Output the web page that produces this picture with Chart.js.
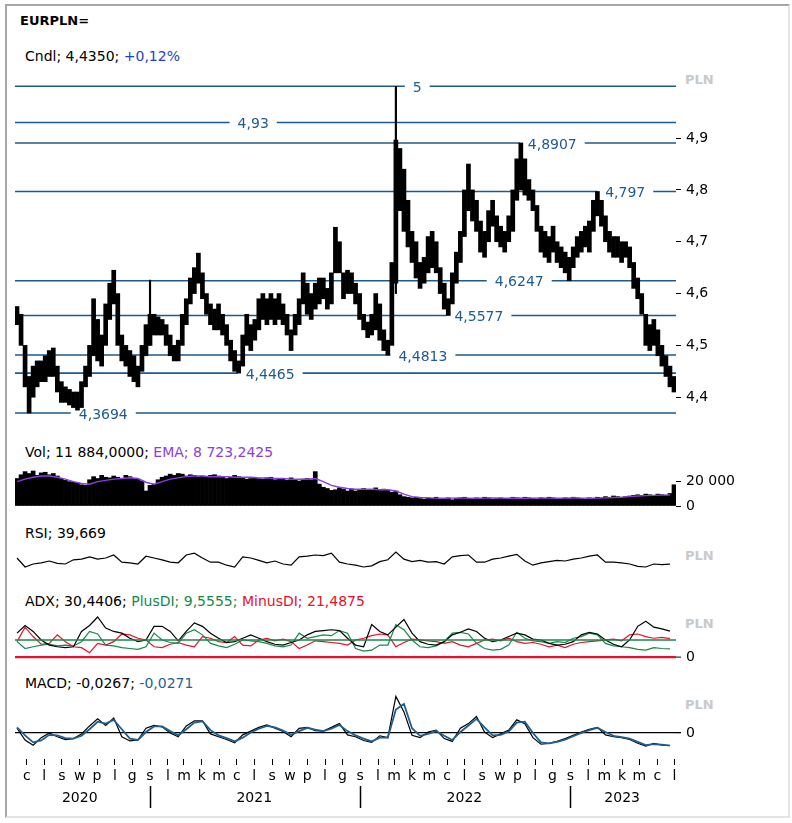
<!DOCTYPE html>
<html><head><meta charset="utf-8">
<script src="https://cdn.jsdelivr.net/npm/chart.js@4.4.0/dist/chart.umd.min.js"></script>
<style>
html,body{margin:0;padding:0;background:#fff;}
body{width:792px;height:823px;position:relative;overflow:hidden;font-family:'DejaVu Sans',sans-serif;}
#frame{position:absolute;left:5px;top:4px;width:785px;height:814px;border-left:2px solid #a6a6a6;border-top:2px solid #a6a6a6;border-right:2px solid #e4e4e4;border-bottom:2px solid #e4e4e4;box-sizing:border-box;}
.t{position:absolute;white-space:nowrap;font-size:14px;line-height:18px;color:#000;}
.pln{position:absolute;font-size:13px;font-weight:bold;color:#c9c9c9;line-height:16px;}
canvas{position:absolute;left:0;}
</style></head><body>
<div id="frame"></div>
<div class="t" style="left:20px;top:12px;font-weight:bold;font-size:13px;">EURPLN=</div>
<div class="t" style="left:25px;top:47px;">Cndl; 4,4350; <span style="color:#1f3fcc">+0,12%</span></div>
<div class="t" style="left:25px;top:443px;">Vol; 11 884,0000; <span style="color:#8a3ee0">EMA; 8 723,2425</span></div>
<div class="t" style="left:25px;top:524px;">RSI; 39,669</div>
<div class="t" style="left:25px;top:592px;">ADX; 30,4406; <span style="color:#16884a">PlusDI; 9,5555;</span> <span style="color:#e8102a">MinusDI; 21,4875</span></div>
<div class="t" style="left:25px;top:674px;">MACD; -0,0267; <span style="color:#1f5f96">-0,0271</span></div>
<div class="pln" style="left:685px;top:72px;">PLN</div>
<div class="pln" style="left:685px;top:548px;">PLN</div>
<div class="pln" style="left:685px;top:616px;">PLN</div>
<div class="pln" style="left:685px;top:697px;">PLN</div>

<canvas id="cPrice" width="792" height="370" style="top:60px"></canvas>
<canvas id="cVol" width="792" height="60" style="top:456px"></canvas>
<canvas id="cRsi" width="792" height="76" style="top:520px"></canvas>
<canvas id="cAdx" width="792" height="67" style="top:600px"></canvas>
<canvas id="cMacd" width="792" height="138" style="top:680px"></canvas>

<script>
// ---------- DATA (weekly candles, weeks since 2020-05-15) ----------
const weekLows = [4.54,4.50,4.42,4.3694,4.40,4.42,4.43,4.43,4.44,4.44,
4.41,4.39,4.39,4.385,4.38,4.375,4.38,4.42,4.44,4.48,
4.47,4.46,4.50,4.55,4.58,4.50,4.47,4.46,4.44,4.43,
4.42,4.45,4.48,4.50,4.52,4.52,4.52,4.50,4.48,4.47,
4.47,4.50,4.54,4.58,4.60,4.62,4.59,4.56,4.54,4.53,
4.53,4.52,4.50,4.47,4.45,4.4465,4.46,4.50,4.49,4.51,
4.53,4.55,4.54,4.55,4.54,4.55,4.54,4.52,4.49,4.52,
4.54,4.58,4.56,4.55,4.57,4.58,4.59,4.57,4.58,4.64,
4.64,4.59,4.60,4.60,4.58,4.55,4.53,4.515,4.52,4.53,
4.51,4.49,4.4813,4.50,4.62,4.76,4.72,4.69,4.66,4.63,
4.61,4.62,4.64,4.65,4.64,4.60,4.57,4.5577,4.58,4.62,
4.66,4.71,4.76,4.74,4.72,4.68,4.67,4.70,4.73,4.70,
4.69,4.68,4.70,4.72,4.78,4.80,4.79,4.78,4.76,4.72,
4.68,4.67,4.66,4.68,4.66,4.65,4.64,4.6247,4.65,4.67,
4.68,4.69,4.68,4.72,4.75,4.73,4.70,4.68,4.67,4.67,
4.66,4.67,4.65,4.61,4.59,4.56,4.50,4.49,4.50,4.48,
4.46,4.44,4.42,4.41];
const weekHighs = [4.575,4.56,4.50,4.44,4.46,4.47,4.47,4.48,4.49,4.495,
4.46,4.43,4.42,4.415,4.41,4.41,4.43,4.46,4.50,4.59,
4.55,4.52,4.58,4.62,4.645,4.60,4.52,4.50,4.49,4.48,
4.46,4.50,4.54,4.56,4.56,4.555,4.55,4.54,4.52,4.50,
4.51,4.56,4.59,4.63,4.65,4.678,4.64,4.60,4.58,4.57,
4.58,4.56,4.54,4.51,4.49,4.47,4.52,4.56,4.54,4.55,
4.59,4.60,4.59,4.60,4.59,4.60,4.58,4.56,4.53,4.56,
4.59,4.64,4.62,4.60,4.62,4.63,4.63,4.61,4.64,4.728,
4.70,4.64,4.645,4.64,4.62,4.60,4.56,4.545,4.56,4.60,
4.58,4.53,4.51,4.66,4.896,4.88,4.84,4.78,4.72,4.70,
4.66,4.67,4.71,4.72,4.70,4.65,4.62,4.59,4.64,4.68,
4.72,4.80,4.85,4.80,4.78,4.74,4.72,4.76,4.78,4.75,
4.73,4.72,4.75,4.80,4.86,4.8907,4.86,4.82,4.80,4.77,
4.73,4.72,4.71,4.73,4.70,4.69,4.68,4.67,4.69,4.71,
4.72,4.73,4.74,4.78,4.797,4.78,4.75,4.72,4.71,4.71,
4.70,4.70,4.69,4.66,4.63,4.60,4.56,4.54,4.55,4.53,
4.50,4.48,4.46,4.44];
const wickWeeks = [33, 94];
const wickLows  = [4.50, 4.60];
const wickHighs = [4.626, 5.0];

const levelValues = [5, 4.93, 4.8907, 4.797, 4.6247, 4.5577, 4.4813, 4.4465, 4.3694];
const levelLabels = ['5','4,93','4,8907','4,797','4,6247','4,5577','4,4813','4,4465','4,3694'];
const priceTicks = [4.4, 4.5, 4.6, 4.7, 4.8, 4.9];

const volume = [22000,25000,27500,26000,28000,24500,26500,27000,25000,26000,24000,
22000,20500,19500,19000,18500,17000,16500,
21000,23500,22000,24500,23000,22500,24000,
23000,22000,24500,23500,22000,21500,20000,
12000,
16500,17500,21000,23000,
24000,25500,24500,26000,25500,24000,25000,24500,23500,
24000,23000,24500,25000,24000,23500,22000,23000,24500,23500,22500,21500,22000,23000,22000,
21500,22500,23000,21000,22000,21500,20500,22500,21000,20000,21500,22000,21000,27500,
17500,15000,14000,12500,13000,14500,13500,12000,
13500,12000,13000,14000,12500,13000,14500,13000,13500,12500,11000,12000,
9000,7500,7000,6500,7000,6000,
5500,6500,6000,7000,5500,6000,6500,5000,6000,6500,7000,6000,5500,6500,6000,7000,6500,5500,6000,6500,
6000,5500,7000,6500,6000,7000,6500,6000,5500,6500,6000,7000,6500,5500,6000,6500,6000,7000,6500,6000,
5500,6500,6000,7000,6500,7500,7000,8000,7500,7000,
7500,8000,8500,9000,8500,9500,9000,8500,9500,9000,8500,10000,
17000];
const volumeTicks = [0, 20000];

// indicators sampled every 2 weeks
const volumeEma = [19500,21500,23000,24000,24000,23000,21500,19500,18000,17500,
19500,20500,21500,22000,22500,22000,19000,17500,19500,21500,
22500,23500,24000,24000,23500,23500,23500,23000,23000,23000,
22500,22500,22000,22000,21500,21500,21500,22000,19500,16500,
15000,14000,13500,13500,13500,13000,13000,12000,9500,7500,
6800,6500,6300,6200,6300,6400,6300,6200,6300,6400,
6300,6200,6300,6200,6300,6400,6300,6200,6300,6400,
6300,6200,6300,6500,6800,7000,7500,8000,8300,8500,
8700,8723];
const rsi = [50,35,40,42,45,41,40,47,48,52,48,50,55,43,42,40,53,50,47,43,
42,55,58,50,43,43,38,35,52,50,46,42,45,40,38,52,53,55,54,58,
43,40,38,35,37,44,47,60,48,44,46,43,44,40,52,54,55,43,43,48,
50,53,56,45,38,42,44,46,45,48,50,53,55,43,43,42,40,36,35,40,39,39.67];
const adx = [28,37,30,20,14,12,11,12,30,37,47,34,30,28,22,18,20,36,36,30,
19,30,40,36,28,22,17,18,22,26,22,18,15,14,17,20,26,30,31,32,
31,22,14,12,38,30,26,35,44,28,18,15,14,18,26,29,33,30,22,18,
20,24,28,26,21,20,16,14,15,18,26,29,27,20,15,12,20,36,42,35,33,30.44];
const plusDI = [18,10,12,14,15,13,14,13,18,30,27,14,13,11,10,9,12,28,20,17,
16,28,32,26,16,13,11,15,20,19,18,16,13,12,14,28,22,24,26,25,
31,28,10,7,8,14,14,38,32,20,12,11,13,18,28,29,27,16,10,8,
9,14,29,22,19,18,16,18,17,22,24,28,26,16,13,12,11,9,8,11,10,9.56];
const minusDI = [18,35,24,15,16,26,18,12,11,5,16,14,18,27,26,22,20,12,11,15,
17,14,12,24,22,18,17,24,14,13,20,22,19,21,18,10,14,19,18,17,
16,14,20,22,25,27,26,12,17,21,20,19,18,16,18,14,12,16,20,21,
19,22,18,16,17,15,12,14,11,15,17,18,19,20,21,19,26,27,24,22,23,21.49];
const adxLevel = 20;
const macd = [0.010,-0.015,-0.026,-0.010,0.000,-0.008,-0.014,-0.012,-0.002,0.015,
0.030,0.016,0.032,-0.008,-0.017,-0.015,0.010,0.016,0.013,0.000,
-0.008,0.015,0.026,0.026,-0.002,-0.008,-0.014,-0.021,-0.004,0.004,
0.012,0.017,0.010,0.003,-0.008,0.010,0.012,0.005,0.004,0.012,
0.020,-0.004,-0.008,-0.016,-0.020,-0.006,-0.010,0.078,0.045,-0.005,
-0.010,0.002,0.006,-0.012,-0.018,0.010,0.020,0.035,0.002,-0.010,
-0.002,0.006,0.028,0.020,-0.010,-0.024,-0.022,-0.018,-0.012,-0.005,
0.002,0.008,0.012,-0.004,-0.008,-0.010,-0.014,-0.022,-0.028,-0.022,-0.026,-0.0267];
const macdSignal = [0.012,-0.005,-0.020,-0.016,-0.004,-0.005,-0.011,-0.012,-0.006,0.008,
0.024,0.020,0.028,0.008,-0.012,-0.015,0.002,0.014,0.014,0.004,
-0.005,0.008,0.022,0.025,0.006,-0.005,-0.011,-0.018,-0.010,0.001,
0.009,0.015,0.012,0.005,-0.004,0.004,0.011,0.007,0.004,0.009,
0.017,0.004,-0.005,-0.012,-0.018,-0.010,-0.010,0.050,0.062,0.010,
-0.006,-0.002,0.004,-0.006,-0.015,0.002,0.016,0.030,0.012,-0.005,
-0.004,0.003,0.022,0.024,0.000,-0.020,-0.022,-0.019,-0.014,-0.007,
0.000,0.006,0.011,0.002,-0.006,-0.009,-0.012,-0.019,-0.026,-0.024,-0.025,-0.0271];
const monthLetters = ['s','l','m','k','m','c','l','s','w','p','l','g'];
const years = ['2020','2021','2022','2023'];

// ---------- SETUP ----------
Chart.defaults.font.family = "'DejaVu Sans', sans-serif";
Chart.defaults.font.size = 14;
Chart.defaults.color = '#000';
Chart.defaults.animation = false;
Chart.defaults.plugins.legend.display = false;
Chart.defaults.plugins.tooltip.enabled = false;

const X_MIN = -0.5, X_MAX = weekLows.length - 0.5;
const AXIS_W = 116;
const fixY = s => { s.width = AXIS_W; s.paddingTop = 0; s.paddingBottom = 0; };
const xHidden = {type: 'linear', min: X_MIN, max: X_MAX, offset: false, display: false};
const pts2 = arr => arr.map((v, k) => ({x: 2 * k, y: v}));
const fmt = v => String(v).replace('.', ',');
const lineDs = (data, color, w) => ({type: 'line', data, borderColor: color, borderWidth: w, pointRadius: 0, tension: 0, fill: false});

// month ticks
const base = Date.UTC(2020, 4, 15), WK = 7 * 864e5;
const monthTicks = [];
for (let yy = 2020; yy <= 2023; yy++) for (let m = 0; m < 12; m++) {
  const v = (Date.UTC(yy, m, 1) - base) / WK;
  if (v >= X_MIN && v <= X_MAX) monthTicks.push({value: v, year: yy, m});
}
years.forEach(yr => {
  const list = monthTicks.filter(t => String(t.year) === yr);
  if (list.length) list[Math.floor(list.length / 2)].label = yr;
});

// level line plugin (price panel)
const levelPlugin = {
  id: 'levels',
  beforeDatasetsDraw(chart) {
    const {ctx, chartArea, scales: {x, y}} = chart;
    const labelAt = [99.3, 58.6, 132.8, 150.9, 124.6, 114.6, 100.7, 62.8, 21.4];
    ctx.save();
    ctx.font = "14px 'DejaVu Sans'";
    levelValues.forEach((v, i) => {
      const py = y.getPixelForValue(v);
      ctx.strokeStyle = '#1e5a8a';
      ctx.lineWidth = 1.6;
      ctx.beginPath(); ctx.moveTo(chartArea.left, py); ctx.lineTo(chartArea.right, py); ctx.stroke();
      const px = x.getPixelForValue(labelAt[i]);
      const w = ctx.measureText(levelLabels[i]).width;
      ctx.fillStyle = '#fff';
      ctx.fillRect(px - w / 2 - 8, py - 3, w + 16, 6);
      ctx.fillStyle = '#1d5a93';
      ctx.textAlign = 'center'; ctx.textBaseline = 'middle';
      ctx.fillText(levelLabels[i], px, py + 2);
    });
    ctx.restore();
  }
};

// ---------- PRICE ----------
new Chart(document.getElementById('cPrice'), {
  type: 'bar',
  data: {datasets: [
    {data: wickWeeks.map((w, j) => ({x: w, y: [wickLows[j], wickHighs[j]]})), backgroundColor: '#000', grouped: false, maxBarThickness: 1.5, barPercentage: 1, categoryPercentage: 1},
    {data: weekLows.map((lo, i) => ({x: i, y: [lo, weekHighs[i]]})), backgroundColor: '#000', grouped: false, barPercentage: 1, categoryPercentage: 1}
  ]},
  plugins: [levelPlugin],
  options: {
    responsive: false, devicePixelRatio: 1,
    layout: {padding: {left: 15, right: 0, top: 18, bottom: 10}},
    scales: {
      x: xHidden,
      y: {position: 'right', min: 4.356, max: 5.016,
        afterBuildTicks: s => { s.ticks = priceTicks.map(v => ({value: v})); },
        afterFit: fixY,
        grid: {drawOnChartArea: false, drawTicks: true, tickLength: 5, color: '#000', tickColor: '#000'},
        border: {display: false},
        ticks: {padding: 5, callback: v => fmt(v)}}
    }
  }
});

// ---------- VOLUME ----------
new Chart(document.getElementById('cVol'), {
  type: 'bar',
  data: {datasets: [
    lineDs(pts2(volumeEma), '#8a3ee0', 1.5),
    {data: volume.map((v, i) => ({x: i, y: v})), backgroundColor: '#000', barPercentage: 1, categoryPercentage: 1}
  ]},
  options: {
    responsive: false, devicePixelRatio: 1,
    layout: {padding: {left: 15, right: 0, top: 10, bottom: 10}},
    scales: {
      x: xHidden,
      y: {position: 'right', min: 0, max: 32000,
        afterBuildTicks: s => { s.ticks = volumeTicks.map(v => ({value: v})); },
        afterFit: fixY,
        grid: {drawOnChartArea: false, drawTicks: true, tickLength: 5, color: '#000', tickColor: '#000'},
        border: {display: false},
        ticks: {padding: 5, callback: v => v === 0 ? '0' : (v / 1000) + ' 000'}}
    }
  }
});

// ---------- RSI ----------
new Chart(document.getElementById('cRsi'), {
  type: 'line',
  data: {datasets: [lineDs(pts2(rsi), '#000', 1.2)]},
  options: {
    responsive: false, devicePixelRatio: 1,
    layout: {padding: {left: 15, right: 0, top: 8, bottom: 8}},
    scales: {
      x: xHidden,
      y: {position: 'right', min: 0, max: 100, afterFit: fixY,
        grid: {display: false}, border: {display: false}, ticks: {display: false}}
    }
  }
});

// ---------- ADX ----------
new Chart(document.getElementById('cAdx'), {
  type: 'line',
  data: {datasets: [
    lineDs([{x: X_MIN, y: adxLevel}, {x: X_MAX, y: adxLevel}], '#16884a', 1.6),
    lineDs(pts2(adx), '#000', 1.2),
    lineDs(pts2(plusDI), '#16884a', 1.2),
    lineDs(pts2(minusDI), '#e8102a', 1.2)
  ]},
  options: {
    responsive: false, devicePixelRatio: 1,
    layout: {padding: {left: 15, right: 0, top: 11, bottom: 10}},
    scales: {
      x: xHidden,
      y: {position: 'right', min: 0, max: 54,
        afterBuildTicks: s => { s.ticks = [{value: 0}]; },
        afterFit: fixY,
        grid: {drawOnChartArea: true, drawTicks: true, tickLength: 5, color: '#e8102a', lineWidth: 2.2, tickColor: '#000', tickWidth: 1},
        border: {display: false},
        ticks: {padding: 5, callback: () => '0'}}
    }
  }
});

// ---------- MACD + time axis ----------
const sepPlugin = {
  id: 'yearSep',
  afterDraw(chart) {
    const {ctx, chartArea, scales: {x}} = chart;
    ctx.save();
    ctx.strokeStyle = '#000'; ctx.lineWidth = 1.5;
    monthTicks.filter(t => t.m === 0).forEach(t => {
      const px = Math.round(x.getPixelForValue(t.value)) + 0.5;
      ctx.beginPath(); ctx.moveTo(px, chartArea.bottom + 27); ctx.lineTo(px, chartArea.bottom + 49); ctx.stroke();
    });
    ctx.restore();
  }
};
new Chart(document.getElementById('cMacd'), {
  type: 'line',
  data: {datasets: [
    lineDs(pts2(macdSignal), '#1f5f8f', 1.8),
    lineDs(pts2(macd), '#000', 1.2)
  ]},
  plugins: [sepPlugin],
  options: {
    responsive: false, devicePixelRatio: 1,
    layout: {padding: {left: 15, right: 0, top: 11, bottom: 4}},
    scales: {
      x: {type: 'linear', min: X_MIN, max: X_MAX, offset: false, position: 'bottom',
        afterBuildTicks: s => { s.ticks = monthTicks.map(t => ({value: t.value})); },
        afterFit: s => { s.height = 55; s.paddingLeft = 0; s.paddingRight = 0; },
        grid: {drawOnChartArea: false, drawTicks: true, tickLength: 6, color: '#000', tickColor: '#000'},
        border: {display: false},
        ticks: {autoSkip: false, maxRotation: 0, padding: 1, font: {size: 14, lineHeight: 1.55},
          callback: (v, i) => [monthLetters[monthTicks[i].m], monthTicks[i].label || '']}},
      y: {position: 'right', min: -0.0555, max: 0.0895,
        afterBuildTicks: s => { s.ticks = [{value: 0}]; },
        afterFit: fixY,
        grid: {drawOnChartArea: true, drawTicks: true, tickLength: 5, color: '#000', lineWidth: 1.3, tickColor: '#000'},
        border: {display: false},
        ticks: {padding: 5, callback: () => '0'}}
    }
  }
});
</script>
</body></html>
